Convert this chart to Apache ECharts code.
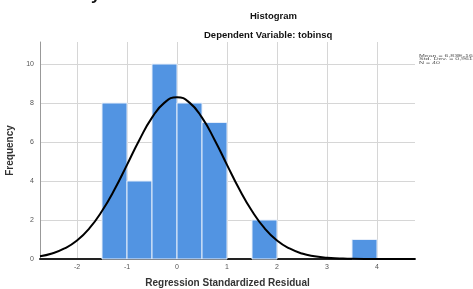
<!DOCTYPE html>
<html>
<head>
<meta charset="utf-8">
<script src="https://cdn.jsdelivr.net/npm/echarts@6/dist/echarts.min.js"></script>
<style>
html, body { margin: 0; padding: 0; background: #fff; }
#main { width: 473px; height: 289px; }
</style>
</head>
<body>
<div id="main"></div>
<script>
// histogram bins: [from, to, count]
var binStart = [-1.5, -1.0, -0.5, 0.0, 0.5, 1.5, 3.5];
var binEnd   = [-1.0, -0.5, 0.0, 0.5, 1.0, 2.0, 4.0];
var counts   = [8, 4, 10, 8, 7, 2, 1];

// normal curve
var curveX = [-2.74, -2.5, -2.25, -2.0, -1.75, -1.5, -1.25, -1.0, -0.75, -0.5, -0.25, 0.0,
              0.25, 0.5, 0.75, 1.0, 1.25, 1.5, 1.75, 2.0, 2.25, 2.5, 2.75, 3.0, 3.25, 3.5, 4.0, 4.76];
var curveY = [0.14, 0.28, 0.54, 0.95, 1.58, 2.46, 3.56, 4.83, 6.12, 7.25, 8.02, 8.30,
              8.02, 7.25, 6.12, 4.83, 3.56, 2.46, 1.58, 0.95, 0.54, 0.28, 0.14, 0.06, 0.03, 0.01, 0.0, 0.0];

var xTicks = [-2, -1, 0, 1, 2, 3, 4];
var yTicks = [0, 2, 4, 6, 8, 10];
var stats = ['Mean = 6,83E-16', 'Std. Dev. = 0,961', 'N = 40'];

var myChart = echarts.init(document.getElementById('main'));

var barData = [];
for (var i = 0; i < counts.length; i++) {
	barData.push([binStart[i], binEnd[i], counts[i]]);
}
var lineData = [];
for (var j = 0; j < curveX.length; j++) {
	lineData.push([curveX[j], curveY[j]]);
}

var font = 'Liberation Sans, Arial, sans-serif';

myChart.setOption({
	animation : false,
	grid : {
		left : 40,
		right : 58,
		top : 42,
		bottom : 30,
		containLabel : false,
		outerBoundsMode : 'none'
	},
	xAxis : {
		type : 'value',
		min : -2.74,
		max : 4.76,
		name : 'Regression Standardized Residual',
		nameLocation : 'middle',
		nameGap : 19,
		nameTextStyle : { fontFamily : font, fontWeight : 'bold', fontSize : 10, color : '#333' },
		axisLine : { lineStyle : { color : '#222', width : 2 } },
		axisTick : { show : false, customValues : xTicks },
		axisLabel : { customValues : xTicks, fontFamily : font, fontSize : 7, color : '#555', margin : 5 },
		splitLine : { show : true, lineStyle : { color : '#d6d6d6', width : 1 } }
	},
	yAxis : {
		type : 'value',
		min : 0,
		max : 11.13,
		name : 'Frequency',
		nameLocation : 'middle',
		nameGap : 22,
		nameTextStyle : { fontFamily : font, fontWeight : 'bold', fontSize : 10, color : '#333' },
		axisLine : { show : true, onZero : false, lineStyle : { color : '#999', width : 1 } },
		axisTick : { show : false, customValues : yTicks },
		axisLabel : { customValues : yTicks, fontFamily : font, fontSize : 7, color : '#555', margin : 6 },
		splitLine : { show : true, lineStyle : { color : '#d6d6d6', width : 1 } }
	},
	graphic : [
		{ type : 'text', left : 250, top : 11, style : { text : 'Histogram', font : 'bold 9.5px ' + font, fill : '#111' } },
		{ type : 'text', left : 204, top : 30, style : { text : 'Dependent Variable: tobinsq', font : 'bold 9.5px ' + font, fill : '#111' } },
		{ type : 'text', x : 419, y : 54, scaleY : 0.5,
			style : { text : stats.join('\n'), font : '7px ' + font, lineHeight : 7, fill : '#555' } },
		{ type : 'text', left : 91, top : -13, style : { text : 'y', font : 'bold 17px ' + font, fill : '#111' } }
	],
	series : [ {
		type : 'custom',
		data : barData,
		encode : { x : [0, 1], y : 2 },
		renderItem : function (params, api) {
			var p0 = api.coord([api.value(0), api.value(2)]);
			var p1 = api.coord([api.value(1), 0]);
			return {
				type : 'rect',
				shape : { x : p0[0], y : p0[1], width : p1[0] - p0[0], height : p1[1] - p0[1] },
				style : { fill : '#5294e2', stroke : '#e6eefa', lineWidth : 1 }
			};
		},
		z : 2
	}, {
		type : 'line',
		data : lineData,
		smooth : true,
		symbol : 'none',
		lineStyle : { color : '#000', width : 2 },
		z : 3
	} ]
});
</script>
</body>
</html>
